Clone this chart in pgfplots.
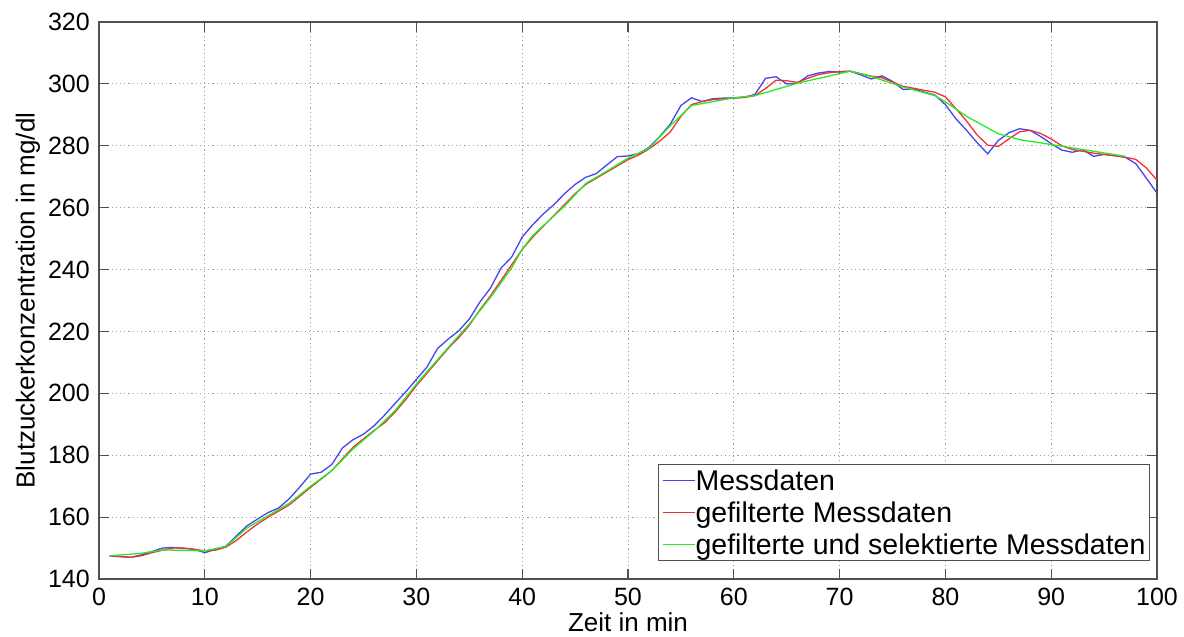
\documentclass[border=0pt]{standalone}
\usepackage{fontspec}
\setmainfont{Liberation Sans}
\usepackage{pgfplots}
\pgfplotsset{compat=1.18}

\definecolor{mblue}{RGB}{70,70,235}
\definecolor{mred}{RGB}{240,50,50}
\definecolor{mgreen}{RGB}{40,235,40}
\definecolor{axgray}{RGB}{80,80,80}

\begin{document}
\begin{tikzpicture}
\begin{axis}[
  name=ax,
  scale only axis,
  width=1058pt, height=557pt,
  xmin=0, xmax=100, ymin=140, ymax=320,
  xtick={0,10,...,100}, ytick={140,160,...,320},
  grid=major,
  major grid style={gray!75, line width=0.8pt, dash pattern=on 1.2pt off 3pt},
  axis line style={axgray, line width=1.2pt},
  tick style={axgray, line width=1.2pt},
  major tick length=10pt,
  tick align=inside, tick pos=both,
  /pgf/number format/assume math mode=true,
  /pgf/number format/1000 sep={},
  ticklabel style={font=\fontsize{25}{30}\selectfont, inner sep=0pt},
  xticklabel style={anchor=north, yshift=-9pt},
  yticklabel style={anchor=east, xshift=-9pt},
  xlabel={Zeit in min},
  ylabel={Blutzuckerkonzentration in mg/dl},
  label style={font=\fontsize{26}{30}\selectfont},
  xlabel style={at={(axis description cs:0.5,-0.0934)}, anchor=base},
  ylabel style={at={(axis description cs:-0.0671,0.5)}, anchor=center},
  legend style={at={(rel axis cs:1,0)}, anchor=south east, xshift=-7pt, yshift=18pt,
    draw=axgray, line width=1pt, inner xsep=4pt, inner ysep=0pt,
    font=\fontsize{28.5}{32}\selectfont,
    nodes={text height=23pt, text depth=3pt, inner ysep=3pt, inner xsep=0pt},
    row sep=0pt},
  legend cell align=left,
  legend image code/.code={\draw[#1] (0pt,0pt) -- (32pt,0pt);},
]
\addplot[mblue, line width=1.3pt] coordinates {
(1,147.5)(2,147.2)(3,147.0)(4,147.8)(5,148.9)(6,150.0)(7,150.2)(8,149.9)(9,149.6)(10,148.5)
(11,149.6)(12,150.6)(13,154.0)(14,157.2)(15,159.4)(16,161.5)(17,163.0)(18,166.0)(19,169.8)(20,173.9)
(21,174.5)(22,177.0)(23,182.3)(24,185.0)(25,186.8)(26,189.5)(27,193.0)(28,196.8)(29,200.5)(30,204.5)
(31,208.5)(32,214.5)(33,217.5)(34,220.2)(35,224.0)(36,229.5)(37,234.0)(38,240.5)(39,244.0)(40,250.5)
(41,254.5)(42,258.0)(43,261.0)(44,264.5)(45,267.5)(46,269.8)(47,271.0)(48,273.8)(49,276.5)(50,276.7)
(51,277.5)(52,279.5)(53,283.0)(54,287.0)(55,293.0)(56,295.5)(57,294.3)(58,295.2)(59,295.4)(60,295.5)
(61,295.7)(62,296.6)(63,301.8)(64,302.3)(65,300.0)(66,300.2)(67,302.6)(68,303.5)(69,304.0)(70,303.8)
(71,304.1)(72,302.9)(73,301.6)(74,302.6)(75,300.8)(76,298.2)(77,298.4)(78,297.3)(79,296.4)(80,293.3)
(81,288.7)(82,285.0)(83,281.0)(84,277.4)(85,281.7)(86,284.2)(87,285.5)(88,285.0)(89,283.0)(90,280.7)
(91,278.6)(92,277.9)(93,278.7)(94,276.6)(95,277.2)(96,276.8)(97,276.3)(98,274.2)(99,269.5)(100,264.7)
};
\addlegendentry{Messdaten}
\addplot[mred, line width=1.3pt] coordinates {
(1,147.5)(2,147.3)(3,147.0)(4,147.5)(5,148.5)(6,149.3)(7,150.0)(8,150.0)(9,149.6)(10,149.1)
(11,149.3)(12,150.3)(13,152.5)(14,155.3)(15,157.8)(16,160.0)(17,162.0)(18,164.0)(19,166.8)(20,169.6)
(21,172.3)(22,175.0)(23,178.8)(24,182.5)(25,185.3)(26,188.0)(27,190.5)(28,194.0)(29,198.0)(30,202.5)
(31,206.5)(32,210.5)(33,214.5)(34,218.0)(35,222.0)(36,227.0)(37,231.5)(38,236.5)(39,241.5)(40,246.5)
(41,250.5)(42,254.0)(43,257.5)(44,261.0)(45,264.5)(46,267.5)(47,269.5)(48,271.5)(49,273.5)(50,275.5)
(51,277.0)(52,279.0)(53,281.5)(54,284.5)(55,289.5)(56,293.3)(57,294.3)(58,294.9)(59,295.2)(60,295.4)
(61,295.6)(62,296.2)(63,298.5)(64,301.2)(65,301.0)(66,300.5)(67,301.8)(68,303.0)(69,303.6)(70,304.0)
(71,304.1)(72,303.3)(73,302.5)(74,302.0)(75,300.6)(76,299.2)(77,298.6)(78,297.9)(79,297.3)(80,295.8)
(81,292.0)(82,288.0)(83,283.5)(84,280.2)(85,279.8)(86,282.2)(87,284.5)(88,285.0)(89,284.0)(90,282.2)
(91,280.0)(92,278.8)(93,278.2)(94,277.6)(95,277.2)(96,276.8)(97,276.3)(98,275.6)(99,272.8)(100,268.9)
};
\addlegendentry{gefilterte Messdaten}
\addplot[mgreen, line width=1.3pt] coordinates {
(1,147.5)(4,148.3)(6,149.4)(10,149.1)(12,150.5)(14,156.5)(16,160.5)(18,164.5)(20,170.0)
(22,175.0)(24,182.0)(26,187.8)(28,194.5)(30,203.0)(33,214.8)(35,222.4)(37,231.0)(39,240.5)
(40,246.6)(41,251.0)(44,260.5)(46,267.8)(48,271.8)(50,276.0)(52,279.2)(54,286.5)(56,293.0)
(60,295.5)(62,296.2)(66,300.2)(71,304.1)(73,302.4)(76,299.0)(79,296.2)(80,294.2)(82,289.5)
(85,283.9)(87,282.0)(90,280.4)(93.5,278.5)(97,276.6)
};
\addlegendentry{gefilterte und selektierte Messdaten}
\end{axis}
\pgfresetboundingbox
\path[use as bounding box] ([xshift=-99pt,yshift=-58pt]ax.south west) rectangle ([xshift=27pt,yshift=22pt]ax.north east);
\end{tikzpicture}
\end{document}
